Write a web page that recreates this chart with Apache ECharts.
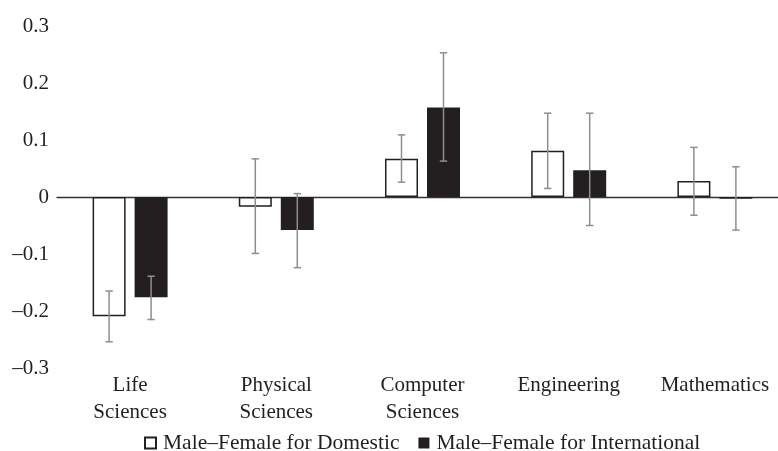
<!DOCTYPE html>
<html>
<head>
<meta charset="utf-8">
<script src="https://cdn.jsdelivr.net/npm/echarts@6/dist/echarts.min.js"></script>
<style>html,body{margin:0;padding:0;background:#fff}#c{width:778px;height:451px}</style>
</head>
<body>
<div id="c"></div>
<script>
const categories = ['Life\nSciences', 'Physical\nSciences', 'Computer\nSciences', 'Engineering', 'Mathematics'];
const seriesNames = ['Male\u2013Female for Domestic', 'Male\u2013Female for International'];
const domestic = [-0.209, -0.017, 0.067, 0.081, 0.028];
const domesticLow = [-0.254, -0.099, 0.026, 0.015, -0.032];
const domesticHigh = [-0.165, 0.067, 0.109, 0.147, 0.087];
const international = [-0.176, -0.058, 0.157, 0.047, -0.003];
const internationalLow = [-0.215, -0.124, 0.063, -0.050, -0.058];
const internationalHigh = [-0.139, 0.006, 0.253, 0.147, 0.053];
const yTicks = { min: -0.3, max: 0.3, interval: 0.1 };

const BAR_W = 33, GAP = 9;
const FONT = '"Liberation Serif", "Times New Roman", serif';
const FS = 21;
const TXT = '#231f20';

function errData(low, high) {
  return low.map((l, i) => [i, l, high[i]]);
}
function errSeries(name, low, high, dir) {
  return {
    type: 'custom',
    name: name + ' err',
    z: 10,
    silent: true,
    xAxisIndex: 0,
    clip: false,
    renderItem: function (params, api) {
      const i = api.value(0);
      const off = dir * (BAR_W + GAP) / 2;
      const p1 = api.coord([i, api.value(1)]);
      const p2 = api.coord([i, api.value(2)]);
      const x = p1[0] + off;
      const cap = 3.7;
      const style = { stroke: '#8e8e8e', lineWidth: 1.5, fill: null };
      return {
        type: 'group',
        children: [
          { type: 'line', shape: { x1: x, y1: p1[1], x2: x, y2: p2[1] }, style: style },
          { type: 'line', shape: { x1: x - cap, y1: p1[1], x2: x + cap, y2: p1[1] }, style: style },
          { type: 'line', shape: { x1: x - cap, y1: p2[1], x2: x + cap, y2: p2[1] }, style: style }
        ]
      };
    },
    encode: { x: 0, y: [1, 2] },
    data: errData(low, high)
  };
}

const chart = echarts.init(document.getElementById('c'), null, { renderer: 'canvas' });
chart.setOption({
  animation: false,
  backgroundColor: '#fff',
  grid: { left: 57, width: 731, top: 26, height: 342, containLabel: false, outerBoundsMode: 'none' },
  legend: {
    data: seriesNames,
    top: 432,
    left: 144,
    icon: 'rect',
    itemWidth: 11,
    itemHeight: 11,
    itemGap: 19,
    padding: 0,
    textStyle: { fontFamily: FONT, fontSize: 21.5, color: TXT, padding: [0, 0, 0, 2] },
    selectedMode: false
  },
  xAxis: [
    {
      type: 'category',
      data: categories,
      position: 'bottom',
      axisLine: { show: false, onZero: false },
      axisTick: { show: false },
      axisLabel: {
        margin: 4,
        fontFamily: FONT,
        fontSize: FS,
        lineHeight: 27,
        color: TXT,
        interval: 0
      }
    },
    {
      type: 'category',
      data: categories,
      position: 'bottom',
      axisLine: { show: true, onZero: true, lineStyle: { color: '#333', width: 1.3 } },
      axisTick: { show: false },
      axisLabel: { show: false }
    }
  ],
  yAxis: {
    type: 'value',
    min: yTicks.min,
    max: yTicks.max,
    interval: yTicks.interval,
    axisLine: { show: false },
    axisTick: { show: false },
    splitLine: { show: false },
    axisLabel: {
      margin: 8,
      fontFamily: FONT,
      fontSize: FS,
      color: TXT,
      formatter: function (v) {
        const r = Math.round(v * 10) / 10;
        if (r === 0) return '0';
        return (r < 0 ? '\u2013' : '') + Math.abs(r).toFixed(1);
      }
    }
  },
  series: [
    {
      type: 'bar',
      name: seriesNames[0],
      data: domestic,
      barWidth: BAR_W,
      barGap: (GAP / BAR_W * 100) + '%',
      itemStyle: { color: '#ffffff', borderColor: TXT, borderWidth: 1.5 }
    },
    {
      type: 'bar',
      name: seriesNames[1],
      data: international,
      barWidth: BAR_W,
      itemStyle: { color: TXT, borderColor: TXT, borderWidth: 0 }
    },
    errSeries(seriesNames[0], domesticLow, domesticHigh, -1),
    errSeries(seriesNames[1], internationalLow, internationalHigh, 1)
  ]
});
</script>
</body>
</html>
